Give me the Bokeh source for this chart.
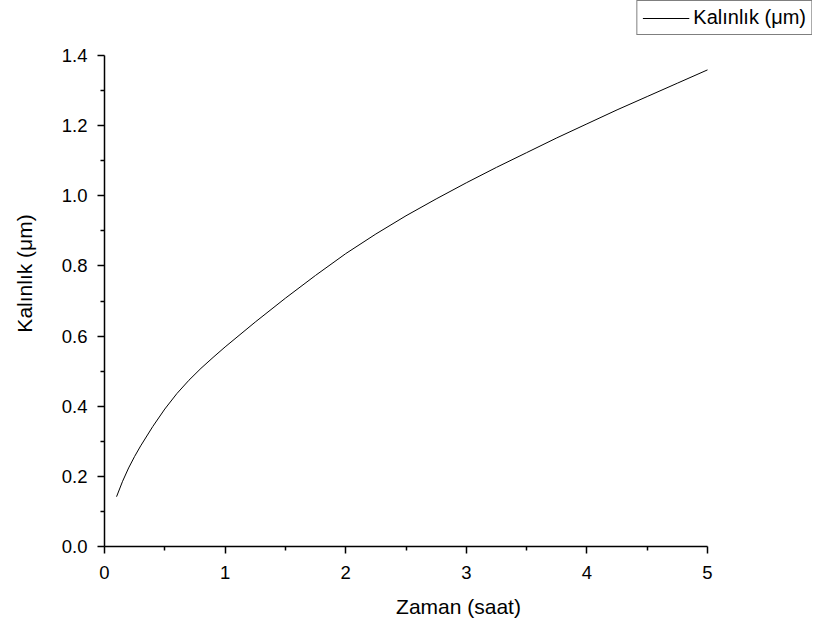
from bokeh.plotting import figure
from bokeh.models import Range1d, Legend, LegendItem, FixedTicker, NumeralTickFormatter
from bokeh.embed import file_html
from bokeh.resources import INLINE

# Oxide thickness growth over time
zaman = [0.1, 0.15, 0.2, 0.25, 0.3, 0.4, 0.5, 0.6, 0.7, 0.8, 0.9, 1.0,
         1.25, 1.5, 1.75, 2.0, 2.25, 2.5, 2.75, 3.0, 3.25, 3.5, 3.75,
         4.0, 4.25, 4.5, 4.75, 5.0]
kalinlik = [0.142, 0.186, 0.224, 0.257, 0.287, 0.342, 0.392, 0.436, 0.474, 0.508, 0.539, 0.569,
            0.640, 0.708, 0.773, 0.835, 0.891, 0.943, 0.991, 1.037, 1.081, 1.123, 1.165,
            1.205, 1.245, 1.283, 1.321, 1.359]

x_ticks = [0, 1, 2, 3, 4, 5]
x_minor = [0.5, 1.5, 2.5, 3.5, 4.5]
y_ticks = [0.0, 0.2, 0.4, 0.6, 0.8, 1.0, 1.2, 1.4]
y_minor = [0.1, 0.3, 0.5, 0.7, 0.9, 1.1, 1.3]

FONT = "Liberation Sans"

# Plot box geometry (pixels); the frame is stretched up and to the right so the
# legend can sit in the top-right corner, while the axes stop at the data limits.
W, H = 814, 631
LEFT, RIGHT_PAD, BOTTOM = 104, 2, 85
AXIS_RIGHT, AXIS_TOP = 707, 55
X_MAX, Y_MAX = x_ticks[-1], y_ticks[-1]
frame_w = W - LEFT - RIGHT_PAD
frame_h = H - BOTTOM
x_end = X_MAX * frame_w / (AXIS_RIGHT - LEFT)
y_end = Y_MAX * frame_h / (frame_h - AXIS_TOP)

p = figure(width=W, height=H, output_backend="svg", toolbar_location=None,
           x_range=Range1d(0, x_end), y_range=Range1d(0, y_end),
           min_border_left=LEFT, min_border_right=RIGHT_PAD,
           min_border_top=0, min_border_bottom=BOTTOM)
p.outline_line_color = None
p.xgrid.visible = False
p.ygrid.visible = False
p.background_fill_color = "white"
p.border_fill_color = "white"

r = p.line(zaman, kalinlik, line_color="black", line_width=1)

p.xaxis.ticker = FixedTicker(ticks=x_ticks, minor_ticks=x_minor)
p.yaxis.ticker = FixedTicker(ticks=y_ticks, minor_ticks=y_minor)
p.yaxis.formatter = NumeralTickFormatter(format="0.0")
p.xaxis.bounds = (0, X_MAX)
p.yaxis.bounds = (0, Y_MAX)

for ax in (p.xaxis, p.yaxis):
    ax.axis_line_color = "black"
    ax.axis_line_width = 1.5
    ax.major_tick_line_color = "black"
    ax.minor_tick_line_color = "black"
    ax.major_tick_line_width = 1.5
    ax.minor_tick_line_width = 1.5
    ax.major_tick_in = 0
    ax.major_tick_out = 7
    ax.minor_tick_in = 0
    ax.minor_tick_out = 4
    ax.major_label_text_font = FONT
    ax.major_label_text_font_size = "18.5px"
    ax.major_label_text_color = "black"
    ax.axis_label_text_font = FONT
    ax.axis_label_text_font_size = "21px"
    ax.axis_label_text_font_style = "normal"
    ax.axis_label_text_color = "black"

p.xaxis.axis_label = "Zaman (saat)"
p.yaxis.axis_label = "Kalınlık (μm)"
p.xaxis.major_label_standoff = 12
p.yaxis.major_label_standoff = 10
p.xaxis.axis_label_standoff = 13
p.yaxis.axis_label_standoff = 23

legend = Legend(items=[LegendItem(label="Kalınlık (μm)", renderers=[r])],
                location="top_right", orientation="vertical",
                label_text_font=FONT, label_text_font_size="20px", label_text_color="black",
                glyph_width=47, glyph_height=22, label_height=22, label_standoff=4,
                padding=5, spacing=0, margin=0,
                border_line_color="black", border_line_width=1.2,
                background_fill_color="white", background_fill_alpha=1.0)
p.add_layout(legend, "center")

open("out.html", "w").write(file_html(p, INLINE))
